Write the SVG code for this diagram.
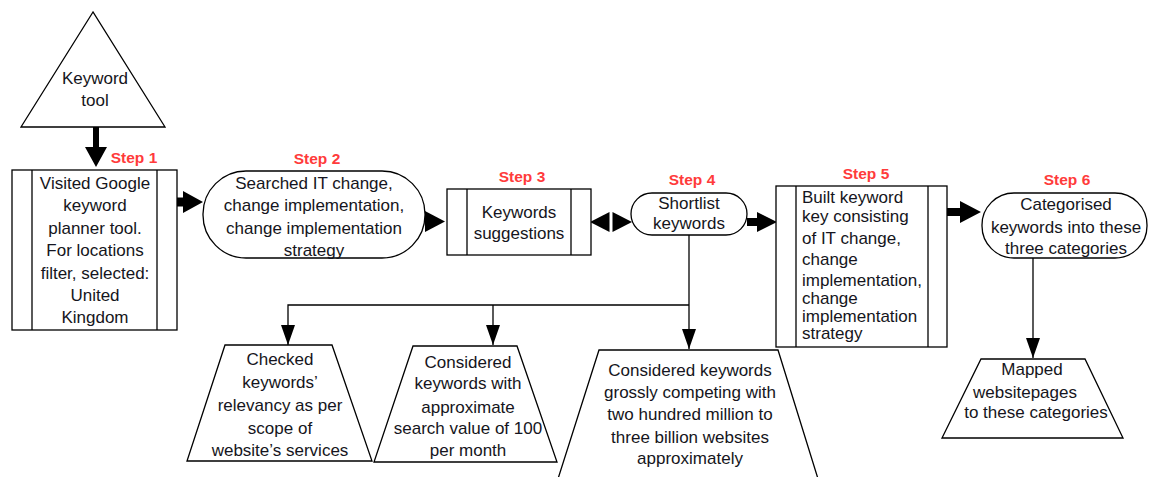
<svg xmlns="http://www.w3.org/2000/svg" width="1149" height="477" viewBox="0 0 1149 477">
<style>
.box{fill:#fff;stroke:#000;stroke-width:1.3}
.ln{fill:none;stroke:#000;stroke-width:1.3}
.t{font-family:"Liberation Sans",Arial,sans-serif;font-size:17px;fill:#151520;text-anchor:middle}
.tl{font-family:"Liberation Sans",Arial,sans-serif;font-size:17px;fill:#151520;text-anchor:start}
.step{font-family:"Liberation Sans",Arial,sans-serif;font-size:15.5px;font-weight:bold;fill:#ff3b3b;text-anchor:middle}
.head{fill:#000}
</style>
<defs>
<marker id="arr" markerUnits="userSpaceOnUse" markerWidth="20" markerHeight="14" refX="20" refY="7" orient="auto">
<path d="M0,0 L20,7 L0,14 Z" fill="#000"/>
</marker>
</defs>
<rect width="1149" height="477" fill="#fff"/>

<g id="connectors">
<path class="head" d="M93,127 H99 V147 H107 L96,167 L85,147 H93 Z"/>
<path class="head" d="M177,197.5 H183 V191 L203,202 L183,213 V206.5 H177 Z"/>
<path class="head" d="M425,211 L445,221.5 L425,232 Z"/>
<path class="head" d="M590,222 L609.5,212 V232 Z"/>
<path class="head" d="M632,222 L612.5,212 V232 Z"/>
<path class="head" d="M747,218 H757 V212 L777,222 L757,232 V226 H747 Z"/>
<path class="head" d="M947,208 H960 V201 L981,212 L960,223 V216 H947 Z"/>
<path class="ln" d="M689,235 V349" marker-end="url(#arr)"/>
<path class="ln" d="M689,305 H288 V345" marker-end="url(#arr)"/>
<path class="ln" d="M493,305 V345" marker-end="url(#arr)"/>
<path class="ln" d="M1033,258 V358" marker-end="url(#arr)"/>
</g>

<g id="keyword-tool">
<polygon class="box" points="93,12 21,127 165,127"/>
<text class="t" x="95" y="84">Keyword</text>
<text class="t" x="95" y="106">tool</text>
</g>

<g id="step1">
<text class="step" x="134" y="163">Step 1</text>
<rect class="box" x="12" y="170" width="165" height="160"/>
<line class="ln" x1="32" y1="170" x2="32" y2="330"/>
<line class="ln" x1="157" y1="170" x2="157" y2="330"/>
<text class="t" x="95" y="189">Visited Google</text>
<text class="t" x="95" y="211">keyword</text>
<text class="t" x="95" y="234">planner tool.</text>
<text class="t" x="95" y="256">For locations</text>
<text class="t" x="95" y="279">filter, selected:</text>
<text class="t" x="95" y="301">United</text>
<text class="t" x="95" y="323">Kingdom</text>
</g>

<g id="step2">
<text class="step" x="317" y="164">Step 2</text>
<rect class="box" x="203" y="171" width="222" height="87" rx="43" ry="43"/>
<text class="t" x="314" y="189">Searched IT change,</text>
<text class="t" x="314" y="211">change implementation,</text>
<text class="t" x="314" y="234">change implementation</text>
<text class="t" x="314" y="256">strategy</text>
</g>

<g id="step3">
<text class="step" x="522" y="182">Step 3</text>
<rect class="box" x="447" y="189" width="144" height="66"/>
<line class="ln" x1="467" y1="189" x2="467" y2="255"/>
<line class="ln" x1="571" y1="189" x2="571" y2="255"/>
<text class="t" x="519" y="218">Keywords</text>
<text class="t" x="519" y="239">suggestions</text>
</g>

<g id="step4">
<text class="step" x="692" y="185">Step 4</text>
<rect class="box" x="631" y="193" width="116" height="42" rx="21" ry="21"/>
<text class="t" x="689" y="209">Shortlist</text>
<text class="t" x="689" y="229">keywords</text>
</g>

<g id="step5">
<text class="step" x="866" y="179">Step 5</text>
<rect class="box" x="776" y="186" width="171" height="161"/>
<line class="ln" x1="796" y1="186" x2="796" y2="347"/>
<line class="ln" x1="928" y1="186" x2="928" y2="347"/>
<text class="tl" x="802" y="203">Built keyword</text>
<text class="tl" x="802" y="222">key consisting</text>
<text class="tl" x="802" y="244">of IT change,</text>
<text class="tl" x="802" y="265">change</text>
<text class="tl" x="802" y="286">implementation,</text>
<text class="tl" x="802" y="304">change</text>
<text class="tl" x="802" y="322">implementation</text>
<text class="tl" x="802" y="339">strategy</text>
</g>

<g id="step6">
<text class="step" x="1067" y="185">Step 6</text>
<rect class="box" x="982" y="193" width="165" height="65" rx="32" ry="32"/>
<text class="t" x="1066" y="210">Categorised</text>
<text class="t" x="1066" y="233">keywords into these</text>
<text class="t" x="1066" y="254">three categories</text>
</g>

<g id="check-relevancy">
<polygon class="box" points="225,345 332,345 372,461 187,461"/>
<text class="t" x="280" y="365">Checked</text>
<text class="t" x="280" y="388">keywords’</text>
<text class="t" x="280" y="411">relevancy as per</text>
<text class="t" x="280" y="434">scope of</text>
<text class="t" x="280" y="456">website’s services</text>
</g>

<g id="search-value">
<polygon class="box" points="413,346 517,346 557,462 374,462"/>
<text class="t" x="468" y="368">Considered</text>
<text class="t" x="468" y="389">keywords with</text>
<text class="t" x="468" y="413">approximate</text>
<text class="t" x="468" y="434">search value of 100</text>
<text class="t" x="468" y="456">per month</text>
</g>

<g id="competing">
<polygon class="box" points="599,350 778,350 819,482 557,482"/>
<text class="t" x="690" y="376">Considered keywords</text>
<text class="t" x="690" y="398">grossly competing with</text>
<text class="t" x="690" y="420">two hundred million to</text>
<text class="t" x="690" y="443">three billion websites</text>
<text class="t" x="690" y="464">approximately</text>
</g>

<g id="mapped">
<polygon class="box" points="981,359 1085,359 1123,438 942,438"/>
<text class="t" x="1032" y="375">Mapped</text>
<text class="t" x="1025" y="398">websitepages</text>
<text class="t" x="1036" y="418">to these categories</text>
</g>
</svg>
